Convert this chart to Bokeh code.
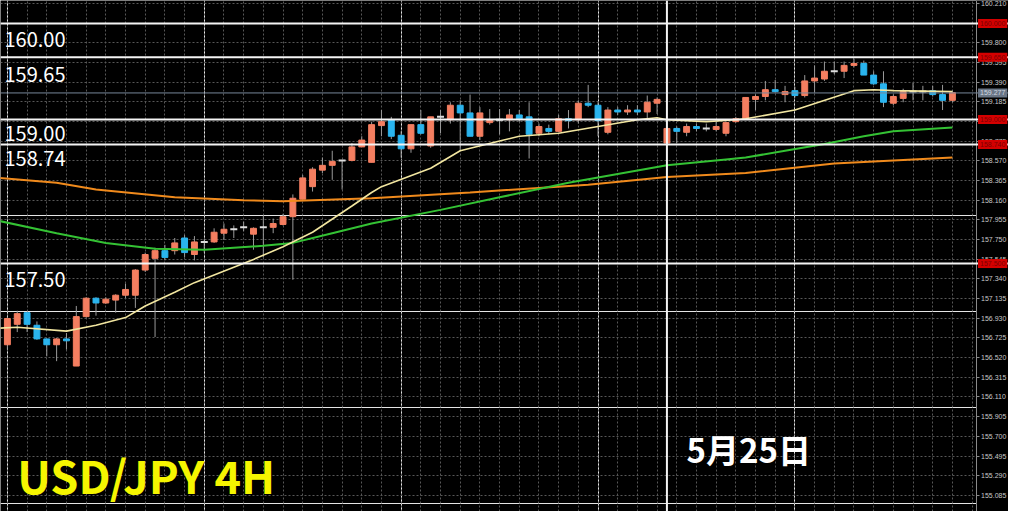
import pandas as pd
from bokeh.plotting import figure
from bokeh.models import (Range1d, LinearAxis, FixedTicker, PrintfTickFormatter, Span,
                          Label, Grid, ColumnDataSource, BoxAnnotation)
from bokeh.embed import file_html
from bokeh.resources import INLINE

# ---------------- data ----------------
opens = [156.654, 156.867, 156.988, 156.857, 156.715, 156.654, 156.715, 156.432, 156.947, 157.139,
         157.089, 157.119, 157.170, 157.170, 157.432, 157.554, 157.634, 157.634, 157.766, 157.594,
         157.725, 157.725, 157.816, 157.857, 157.877, 157.806, 157.877, 157.877, 157.907, 157.988,
         158.170, 158.301, 158.473, 158.523, 158.574, 158.574, 158.715, 158.554, 158.937, 158.998,
         158.836, 158.695, 158.947, 158.725, 159.028, 158.998, 159.149, 159.069, 158.826, 158.968,
         158.998, 158.998, 159.048, 159.028, 158.857, 158.907, 158.877, 159.008, 158.998, 159.170,
         159.149, 158.867, 159.099, 159.079, 159.099, 159.079, 159.170, 158.755, 158.907, 158.867,
         158.927, 158.907, 158.897, 158.857, 158.978, 159.008, 159.210, 159.240, 159.311, 159.260,
         159.301, 159.250, 159.402, 159.422, 159.503, 159.503, 159.564, 159.584, 159.463, 159.372,
         159.170, 159.220, 159.291, 159.291, 159.301, 159.260, 159.200]
highs = [156.947, 157.008, 156.998, 156.897, 156.715, 156.725, 156.776, 157.058, 157.149, 157.149,
         157.149, 157.180, 157.291, 157.442, 157.614, 157.665, 157.695, 157.766, 157.796, 157.786,
         157.756, 157.867, 157.917, 157.897, 157.937, 157.877, 157.998, 157.968, 158.018, 158.220,
         158.422, 158.503, 158.604, 158.675, 158.574, 158.755, 158.826, 158.978, 159.099, 159.028,
         158.877, 158.947, 159.099, 159.028, 159.099, 159.180, 159.200, 159.260, 159.129, 159.109,
         159.109, 159.109, 159.099, 159.180, 158.958, 158.947, 159.048, 159.099, 159.200, 159.361,
         159.180, 159.129, 159.129, 159.149, 159.149, 159.250, 159.230, 158.927, 158.927, 158.958,
         158.958, 158.958, 158.978, 158.968, 159.028, 159.230, 159.260, 159.402, 159.412, 159.351,
         159.341, 159.463, 159.564, 159.604, 159.604, 159.604, 159.634, 159.614, 159.503, 159.503,
         159.260, 159.321, 159.382, 159.351, 159.351, 159.361, 159.301]
lows = [156.604, 156.786, 156.786, 156.705, 156.533, 156.483, 156.604, 156.432, 156.937, 156.957,
        157.079, 156.988, 157.139, 157.038, 157.412, 156.735, 157.533, 157.594, 157.564, 157.533,
        157.614, 157.715, 157.745, 157.766, 157.836, 157.644, 157.564, 157.816, 157.897, 157.331,
        158.170, 158.250, 158.442, 158.372, 158.271, 158.564, 158.715, 158.554, 158.826, 158.796,
        158.604, 158.654, 158.846, 158.705, 158.857, 158.958, 158.675, 158.826, 158.786, 158.947,
        158.846, 158.877, 158.978, 158.594, 158.826, 158.846, 158.867, 158.907, 158.958, 159.129,
        158.826, 158.846, 159.048, 159.048, 159.048, 159.008, 159.058, 158.755, 158.755, 158.826,
        158.877, 158.877, 158.877, 158.826, 158.968, 159.008, 159.099, 159.200, 159.281, 159.180,
        159.230, 159.230, 159.281, 159.402, 159.473, 159.432, 159.543, 159.463, 159.361, 159.129,
        159.149, 159.180, 159.200, 159.200, 159.240, 159.099, 159.180]
closes = [156.927, 156.978, 156.867, 156.715, 156.654, 156.715, 156.695, 156.947, 157.139, 157.089,
          157.129, 157.170, 157.230, 157.432, 157.594, 157.634, 157.564, 157.715, 157.614, 157.725,
          157.725, 157.826, 157.857, 157.857, 157.877, 157.867, 157.877, 157.917, 157.988, 158.180,
          158.392, 158.483, 158.523, 158.564, 158.574, 158.715, 158.786, 158.947, 158.978, 158.826,
          158.695, 158.947, 158.857, 159.028, 159.028, 159.149, 159.069, 158.826, 159.069, 158.998,
          158.998, 159.048, 159.008, 158.846, 158.927, 158.877, 159.008, 158.988, 159.170, 159.149,
          158.988, 159.099, 159.079, 159.099, 159.079, 159.180, 159.210, 158.907, 158.877, 158.927,
          158.907, 158.907, 158.927, 158.968, 159.008, 159.230, 159.240, 159.311, 159.291, 159.291,
          159.250, 159.402, 159.432, 159.503, 159.503, 159.564, 159.584, 159.463, 159.372, 159.180,
          159.240, 159.291, 159.291, 159.291, 159.260, 159.200, 159.281]
candle_idx = list(range(len(opens)))

# moving averages (candle index, price)
ma_fast_idx = [-1, 1, 6, 9, 12, 14, 17, 19, 25, 28, 31, 35, 37, 38, 43, 46, 50, 52, 56, 60,
               64, 66, 67, 71, 74, 75, 80, 86, 88, 90, 96]
ma_fast = [156.826, 156.836, 156.796, 156.857, 156.937, 157.058, 157.200, 157.301, 157.543, 157.675,
           157.826, 158.099, 158.240, 158.301, 158.493, 158.675, 158.776, 158.826, 158.857, 158.927,
           158.998, 159.018, 158.998, 158.978, 158.998, 159.008, 159.099, 159.301, 159.311, 159.301,
           159.291]
ma_mid_idx = [-1, 5, 10, 15, 20, 26, 29, 33, 37, 44, 50, 57, 62, 67, 73, 75, 79, 83, 87, 90, 96]
ma_mid = [157.947, 157.816, 157.715, 157.654, 157.644, 157.685, 157.715, 157.816, 157.917, 158.059,
          158.190, 158.341, 158.432, 158.523, 158.584, 158.604, 158.675, 158.745, 158.826, 158.877,
          158.917]
ma_slow_idx = [-1, 5, 9, 17, 24, 28, 37, 47, 59, 67, 75, 84, 96]
ma_slow = [158.392, 158.341, 158.271, 158.190, 158.160, 158.149, 158.180, 158.240, 158.321, 158.402,
           158.442, 158.543, 158.604]

level_values = [160.00, 159.65, 159.00, 158.74, 157.50]
level_label_drop = [16, 17, 13.5, 14.5, 16]
current_price = 159.277
marker_idx = 67
marker_text = "5月25日"
title_text = "USD/JPY 4H"

tick_values = [160.210, 160.005, 159.800, 159.595, 159.390, 159.185, 158.980, 158.775, 158.570,
               158.365, 158.160, 157.955, 157.750, 157.545, 157.340, 157.135, 156.930, 156.725,
               156.520, 156.315, 156.110, 155.905, 155.700, 155.495, 155.290, 155.085]
grid_x = list(range(0, 99, 2))

# ---------------- figure ----------------
X0, X_AXIS, X1 = -0.7, 98.4, 101.7
Y0, Y1 = 154.917, 160.240
W, H = 1008, 511
p = figure(width=W, height=H, output_backend="svg", toolbar_location=None,
           x_range=Range1d(X0, X1), y_range=Range1d(Y0, Y1),
           x_axis_location=None, y_axis_location=None,
           background_fill_color="black", border_fill_color="black",
           min_border_left=0, min_border_right=0, min_border_top=0, min_border_bottom=0)
p.outline_line_color = None

grid_color = "#575757"
p.add_layout(Grid(dimension=1, ticker=FixedTicker(ticks=tick_values),
                  grid_line_color=grid_color, grid_line_dash="2 2", grid_line_width=1))
p.add_layout(Grid(dimension=0, ticker=FixedTicker(ticks=grid_x),
                  grid_line_color=grid_color, grid_line_dash="2 2", grid_line_width=1))
# price-scale strip: hides the grid to the right of the axis line
p.add_layout(BoxAnnotation(left=X_AXIS, fill_color="black", fill_alpha=1.0, line_color=None,
                           level="underlay"))

yaxis = LinearAxis(ticker=FixedTicker(ticks=tick_values), fixed_location=X_AXIS,
                   formatter=PrintfTickFormatter(format="%.3f"))
yaxis.axis_line_color = "#8a8a8a"
yaxis.major_tick_line_color = "#8a8a8a"
yaxis.major_tick_out = 3
yaxis.major_tick_in = 0
yaxis.minor_tick_line_color = None
yaxis.major_label_standoff = 2
yaxis.major_label_text_font = "Liberation Sans"
yaxis.major_label_text_font_size = "7px"
yaxis.major_label_text_color = "#c8c8c8"
p.add_layout(yaxis, "right")

# candles
df = pd.DataFrame(dict(idx=candle_idx, open=opens, high=highs, low=lows, close=closes))
df["top"] = df[["open", "close"]].max(axis=1)
df["bottom"] = df[["open", "close"]].min(axis=1)
df["doji"] = (df["close"] - df["open"]).abs() < 0.004
up = df[(df["close"] > df["open"]) & ~df["doji"]]
dn = df[(df["close"] < df["open"]) & ~df["doji"]]
dj = df[df["doji"]]

wick_color = "#9a9a9a"
p.segment(x0="idx", y0="low", x1="idx", y1="high", source=ColumnDataSource(df),
          line_color=wick_color, line_width=1)
up_color = "#f47e60"
dn_color = "#2ab4ee"
p.vbar(x="idx", width=0.6, top="top", bottom="bottom", source=ColumnDataSource(up),
       fill_color=up_color, line_color=up_color, line_width=1)
p.vbar(x="idx", width=0.6, top="top", bottom="bottom", source=ColumnDataSource(dn),
       fill_color=dn_color, line_color=dn_color, line_width=1)
p.dash(x="idx", y="close", size=7, line_width=2, line_color="#dcdcdc",
       source=ColumnDataSource(dj))

# moving averages
p.line(ma_slow_idx, ma_slow, line_color="#f08a1c", line_width=2)
p.line(ma_mid_idx, ma_mid, line_color="#34c234", line_width=2)
p.line(ma_fast_idx, ma_fast, line_color="#f2e6a0", line_width=1.6)

# level lines
p.add_layout(Span(location=current_price, dimension="width", line_color="#77869a", line_width=1))
for v in level_values:
    p.add_layout(Span(location=v, dimension="width", line_color="#f4f4f4", line_width=2))
p.add_layout(Span(location=marker_idx, dimension="height", line_color="#f4f4f4", line_width=2))

FONT = "Noto Sans CJK JP"
for v, d in zip(level_values, level_label_drop):
    p.add_layout(Label(x=4, x_units="screen", y=v, y_offset=-d, text=f"{v:.2f}",
                       text_font=FONT, text_font_size="20px", text_color="white",
                       text_baseline="middle", text_align="left"))

# price tags on the price scale
for v in level_values:
    p.add_layout(Label(x=X_AXIS, y=v, x_offset=2, text=f"{v:.3f}", text_font="Liberation Sans",
                       text_font_size="7px", text_color="#7a0000", text_baseline="middle",
                       text_align="left", background_fill_color="#d40000", padding=2,
                       level="overlay"))
p.add_layout(Label(x=X_AXIS, y=current_price, x_offset=2, text=f"{current_price:.3f}",
                   text_font="Liberation Sans", text_font_size="7px", text_color="#d0d8e0",
                   text_baseline="middle", text_align="left", background_fill_color="#6a7686",
                   padding=2, level="overlay"))

p.add_layout(Label(x=69.0, y=155.564, text=marker_text, text_font=FONT, text_font_size="33px",
                   text_font_style="bold", text_color="white", text_baseline="middle",
                   text_align="left"))
p.add_layout(Label(x=1.0, y=155.301, text=title_text, text_font=FONT, text_font_size="45px",
                   text_font_style="bold", text_color="#f5f500", text_baseline="middle",
                   text_align="left"))

open("out.html", "w").write(file_html(p, INLINE))
